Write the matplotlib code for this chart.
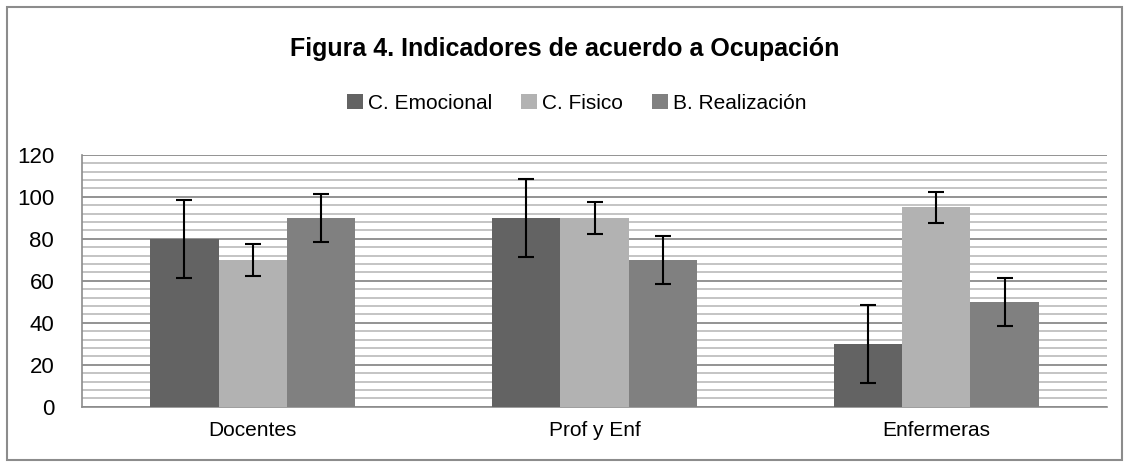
import matplotlib.pyplot as plt
import numpy as np

plt.rcParams['font.family'] = ['Liberation Sans Narrow', 'Liberation Sans', 'DejaVu Sans']

categories = ['Docentes', 'Prof y Enf', 'Enfermeras']
series_names = ['C. Emocional', 'C. Fisico', 'B. Realización']
emocional = [80, 90, 30]
fisico = [70, 90, 95]
realizacion = [90, 70, 50]
err_emocional = [18.5, 18.5, 18.5]
err_fisico = [7.5, 7.5, 7.5]
err_realizacion = [11.5, 11.5, 11.5]

colors = ['#636363', '#b2b2b2', '#808080']

fig = plt.figure(figsize=(11.29, 4.65), dpi=100)
ax = fig.add_axes([0.0726, 0.125, 0.908, 0.542])

# outer chart border
fig.patches.append(plt.Rectangle((0.006, 0.01), 0.988, 0.975, transform=fig.transFigure,
                                 fill=False, edgecolor='#8c8c8c', linewidth=1.5))

x = np.arange(len(categories))
w = 0.2
data = [emocional, fisico, realizacion]
errs = [err_emocional, err_fisico, err_realizacion]
for i in range(3):
    ax.bar(x + (i - 1) * w, data[i], w, color=colors[i], label=series_names[i], zorder=3,
           yerr=errs[i], error_kw=dict(ecolor='black', elinewidth=1.5, capsize=6, capthick=1.5, zorder=4))

ax.set_ylim(0, 120)
ax.set_xlim(-0.5, 2.5)
ax.set_yticks(range(0, 121, 20))
ax.set_yticks(range(0, 121, 4), minor=True)
ax.grid(axis='y', which='major', color='#8a8a8a', linewidth=1.3, zorder=0)
ax.grid(axis='y', which='minor', color='#b4b4b4', linewidth=1.1, zorder=0)
ax.tick_params(axis='y', which='both', length=0, labelsize=16, pad=20)
ax.tick_params(axis='x', length=0, labelsize=15, pad=10)
ax.set_xticks(x)
ax.set_xticklabels(categories)
for s in ['top', 'right']:
    ax.spines[s].set_visible(False)
for s in ['left', 'bottom']:
    ax.spines[s].set_color('#8c8c8c')
    ax.spines[s].set_linewidth(1.2)

fig.text(0.5, 0.895, 'Figura 4. Indicadores de acuerdo a Ocupación', ha='center', va='center',
         fontsize=18, fontweight='bold')
fig.legend(loc='center', bbox_to_anchor=(0.511, 0.778), ncol=3, frameon=False, fontsize=15,
           handlelength=0.75, handleheight=0.75, handletextpad=0.25, columnspacing=1.4)

fig.savefig('out.png', dpi=100)
